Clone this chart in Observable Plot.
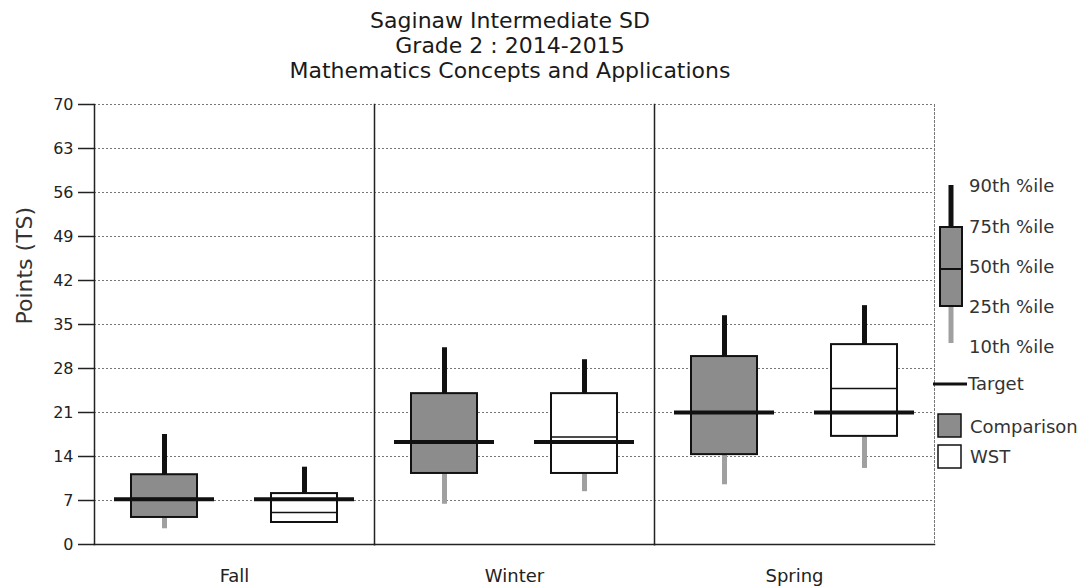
<!DOCTYPE html>
<html><head><meta charset="utf-8">
<script src="https://cdn.jsdelivr.net/npm/d3@7"></script>
<script src="https://cdn.jsdelivr.net/npm/@observablehq/plot@0.6"></script>
<style>
body{margin:0;background:#fff;font-family:"DejaVu Sans",sans-serif;}
#wrap{position:relative;width:1085px;height:588px;overflow:hidden;}
#title{height:88px;box-sizing:border-box;padding-top:8px;padding-left:0;width:1020px;text-align:center;font-size:22px;line-height:25px;color:#1a1a1a;}
#legend{position:absolute;left:0;top:0;pointer-events:none;}
</style></head><body>
<div id="wrap">
<div id="title"><div>Saginaw Intermediate SD</div><div>Grade 2 : 2014-2015</div><div>Mathematics Concepts and Applications</div></div>
<div id="chart"></div>
</div>
<script>
const seasons = ["Fall", "Winter", "Spring"];
const groups = ["Comparison", "WST"];
const seasonOf = ["Fall", "Fall", "Winter", "Winter", "Spring", "Spring"];
const groupOf = ["Comparison", "WST", "Comparison", "WST", "Comparison", "WST"];
const p10 = [2.5, 3.5, 6.4, 8.4, 9.5, 12.1];
const p25 = [4.3, 3.5, 11.3, 11.3, 14.3, 17.2];
const p50 = [7.3, 5.1, 16.3, 17.1, 21.0, 24.8];
const p75 = [11.1, 8.1, 24.0, 24.0, 29.9, 31.8];
const p90 = [17.5, 12.3, 31.3, 29.4, 36.4, 38.0];
const targets = [7.2, 16.3, 21.0];
const yTicks = [0, 7, 14, 21, 28, 35, 42, 49, 56, 63, 70];
const legendLabels = ["90th %ile", "75th %ile", "50th %ile", "25th %ile", "10th %ile"];

const rows = seasonOf.map((s, i) => ({
  season: s, group: groupOf[i],
  p10: p10[i], p25: p25[i], p50: p50[i], p75: p75[i], p90: p90[i],
  target: targets[seasons.indexOf(s)]
}));

const chart = Plot.plot({
  width: 1085, height: 500,
  marginLeft: 93, marginRight: 150, marginTop: 16, marginBottom: 44,
  style: {fontFamily: "DejaVu Sans, sans-serif", fontSize: "16px", color: "#222", background: "white"},
  fx: {domain: seasons, padding: 0, label: null, axis: null},
  x: {domain: groups, paddingInner: 0.529, paddingOuter: 0.2645, axis: null},
  y: {domain: [0, 70], axis: null},
  color: {domain: groups, range: ["#8c8c8c", "#ffffff"]},
  marks: [
    Plot.ruleY(yTicks.filter(d => d > 0), {stroke: "#777", strokeDasharray: "2,2", strokeWidth: 1}),
    Plot.frame({anchor: "right", stroke: "#777", strokeDasharray: "2,2"}),
    Plot.frame({anchor: "left", stroke: "#222", strokeWidth: 1.5}),
    Plot.frame({anchor: "bottom", stroke: "#222", strokeWidth: 1.5}),
    Plot.axisY({ticks: yTicks, tickSize: 16, tickPadding: 5, stroke: "#222", strokeWidth: 1.5, fontSize: 16, label: null}),
    Plot.axisFx({anchor: "bottom", tickSize: 0, tickPadding: 25, fontSize: 18, label: null}),
    Plot.text(["Points (TS)"], {fx: () => "Fall", frameAnchor: "left", dx: -70, rotate: -90, fontSize: 22, fill: "#333"}),
    Plot.ruleX(rows, {fx: "season", x: "group", y1: "p10", y2: "p25", stroke: "#a0a0a0", strokeWidth: 5}),
    Plot.ruleX(rows, {fx: "season", x: "group", y1: "p75", y2: "p90", stroke: "#111", strokeWidth: 5}),
    Plot.rect(rows, {fx: "season", x: "group", y1: "p25", y2: "p75", fill: "group", stroke: "#111", strokeWidth: 2}),
    Plot.tickY(rows, {fx: "season", x: "group", y: "p50", stroke: "#111", strokeWidth: 1.5}),
    Plot.tickY(rows, {fx: "season", x: "group", y: "target", stroke: "#111", strokeWidth: 4, insetLeft: -17, insetRight: -17})
  ]
});
document.getElementById("chart").appendChild(chart);

// Legend (key) drawn on the right side
const lg = d3.create("svg").attr("id", "legend").attr("width", 1085).attr("height", 588)
  .style("font-family", "DejaVu Sans, sans-serif").style("font-size", "18px");
lg.append("line").attr("x1", 951).attr("x2", 951).attr("y1", 185).attr("y2", 227).attr("stroke", "#111").attr("stroke-width", 5);
lg.append("line").attr("x1", 951).attr("x2", 951).attr("y1", 306).attr("y2", 343).attr("stroke", "#a0a0a0").attr("stroke-width", 5);
lg.append("rect").attr("x", 940).attr("y", 227).attr("width", 22).attr("height", 79).attr("fill", "#8c8c8c").attr("stroke", "#111").attr("stroke-width", 2);
lg.append("line").attr("x1", 940).attr("x2", 962).attr("y1", 269).attr("y2", 269).attr("stroke", "#111").attr("stroke-width", 2);
const labelY = [186, 227, 267, 307, 347];
legendLabels.forEach((t, i) => lg.append("text").attr("x", 969).attr("y", labelY[i]).attr("dy", "0.35em").attr("fill", "#333").text(t));
lg.append("line").attr("x1", 933).attr("x2", 967).attr("y1", 384).attr("y2", 384).attr("stroke", "#111").attr("stroke-width", 3);
lg.append("text").attr("x", 968).attr("y", 384).attr("dy", "0.35em").attr("fill", "#333").text("Target");
lg.append("rect").attr("x", 938).attr("y", 414).attr("width", 23).attr("height", 23).attr("fill", "#8c8c8c").attr("stroke", "#111").attr("stroke-width", 1.5);
lg.append("text").attr("x", 970).attr("y", 427).attr("dy", "0.35em").attr("fill", "#333").text("Comparison");
lg.append("rect").attr("x", 938).attr("y", 445).attr("width", 23).attr("height", 23).attr("fill", "#fff").attr("stroke", "#111").attr("stroke-width", 1.5);
lg.append("text").attr("x", 970).attr("y", 457).attr("dy", "0.35em").attr("fill", "#333").text("WST");
document.getElementById("wrap").appendChild(lg.node());
</script>
</body></html>
